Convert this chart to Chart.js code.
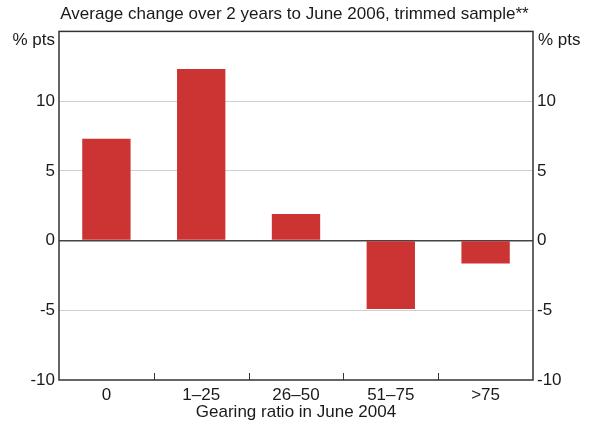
<!DOCTYPE html>
<html>
<head>
<meta charset="utf-8">
<script src="https://cdn.jsdelivr.net/npm/chart.js@4"></script>
<style>
  html, body { margin: 0; padding: 0; background: #fff; }
  #wrap { width: 589px; height: 423px; }
</style>
</head>
<body>
<div id="wrap"><canvas id="chart" width="589" height="423"></canvas></div>
<script>
const categories = ["0", "1\u201325", "26\u201350", "51\u201375", ">75"];
const changes = [7.3, 12.3, 1.9, -4.9, -1.65];
const yTicks = [-10, -5, 0, 5, 10];
const subtitle = "Average change over 2 years to June 2006, trimmed sample**";
const xTitle = "Gearing ratio in June 2004";
const unitLabel = "% pts";

const FONT = "'Liberation Sans', Arial, sans-serif";
const TEXT = "#1a1a1a";
const SIZE = 17;

// box round the plot, unit labels, and the small x tick marks inside the plot
const framePlugin = {
  id: "frame",
  afterDraw(chart) {
    const ctx = chart.ctx;
    const a = chart.chartArea;
    const x = chart.scales.x;
    ctx.save();
    ctx.strokeStyle = "#333";
    ctx.lineWidth = 1.5;
    ctx.strokeRect(a.left, a.top, a.right - a.left, a.bottom - a.top);

    ctx.lineWidth = 1;
    ctx.beginPath();
    for (let i = 0; i < categories.length - 1; i++) {
      const bx = Math.round((x.getPixelForTick(i) + x.getPixelForTick(i + 1)) / 2) + 0.5;
      ctx.moveTo(bx, a.bottom);
      ctx.lineTo(bx, a.bottom - 7);
    }
    ctx.stroke();

    ctx.fillStyle = TEXT;
    ctx.font = SIZE + "px " + FONT;
    ctx.textBaseline = "middle";
    ctx.textAlign = "right";
    ctx.fillText(unitLabel, a.left - 4, a.top + 9);
    ctx.textAlign = "left";
    ctx.fillText(unitLabel, a.right + 5, a.top + 9);
    ctx.restore();
  }
};

const tickCb = v => (yTicks.includes(v) ? String(v) : "");

new Chart(document.getElementById("chart"), {
  type: "bar",
  data: {
    labels: categories,
    datasets: [{
      data: changes,
      backgroundColor: "#cc3333",
      borderWidth: 0,
      barPercentage: 0.51,
      categoryPercentage: 1
    }]
  },
  options: {
    responsive: false,
    animation: false,
    layout: { padding: 0 },
    plugins: {
      legend: { display: false },
      tooltip: { enabled: false },
      title: {
        display: true,
        text: subtitle,
        color: TEXT,
        font: { family: FONT, size: SIZE, weight: "normal", lineHeight: 1.2 },
        padding: { top: 4, bottom: 7 }
      }
    },
    scales: {
      x: {
        grid: { display: false, drawTicks: false },
        border: { display: false },
        ticks: { color: TEXT, font: { family: FONT, size: SIZE }, padding: 5 },
        title: {
          display: true,
          text: xTitle,
          color: TEXT,
          font: { family: FONT, size: SIZE },
          padding: { top: 0, bottom: 0 }
        },
        afterFit(s) { s.height = 43; }
      },
      y: {
        position: "left",
        min: -10,
        max: 15,
        ticks: { stepSize: 5, color: TEXT, font: { family: FONT, size: SIZE }, padding: 4, callback: tickCb },
        grid: {
          drawTicks: false,
          lineWidth: c => (c.tick.value === 0 ? 1.5 : 1),
          color: c => (c.tick.value === 0 ? "#444" : (c.tick.value === 15 || c.tick.value === -10 ? "rgba(0,0,0,0)" : "#cfd0d6"))
        },
        border: { display: false },
        afterFit(s) { s.width = 59; }
      },
      y2: {
        position: "right",
        min: -10,
        max: 15,
        ticks: { stepSize: 5, color: TEXT, font: { family: FONT, size: SIZE }, padding: 4, callback: tickCb },
        grid: { display: false, drawTicks: false },
        border: { display: false },
        afterFit(s) { s.width = 56; }
      }
    }
  },
  plugins: [framePlugin]
});
</script>
</body>
</html>
